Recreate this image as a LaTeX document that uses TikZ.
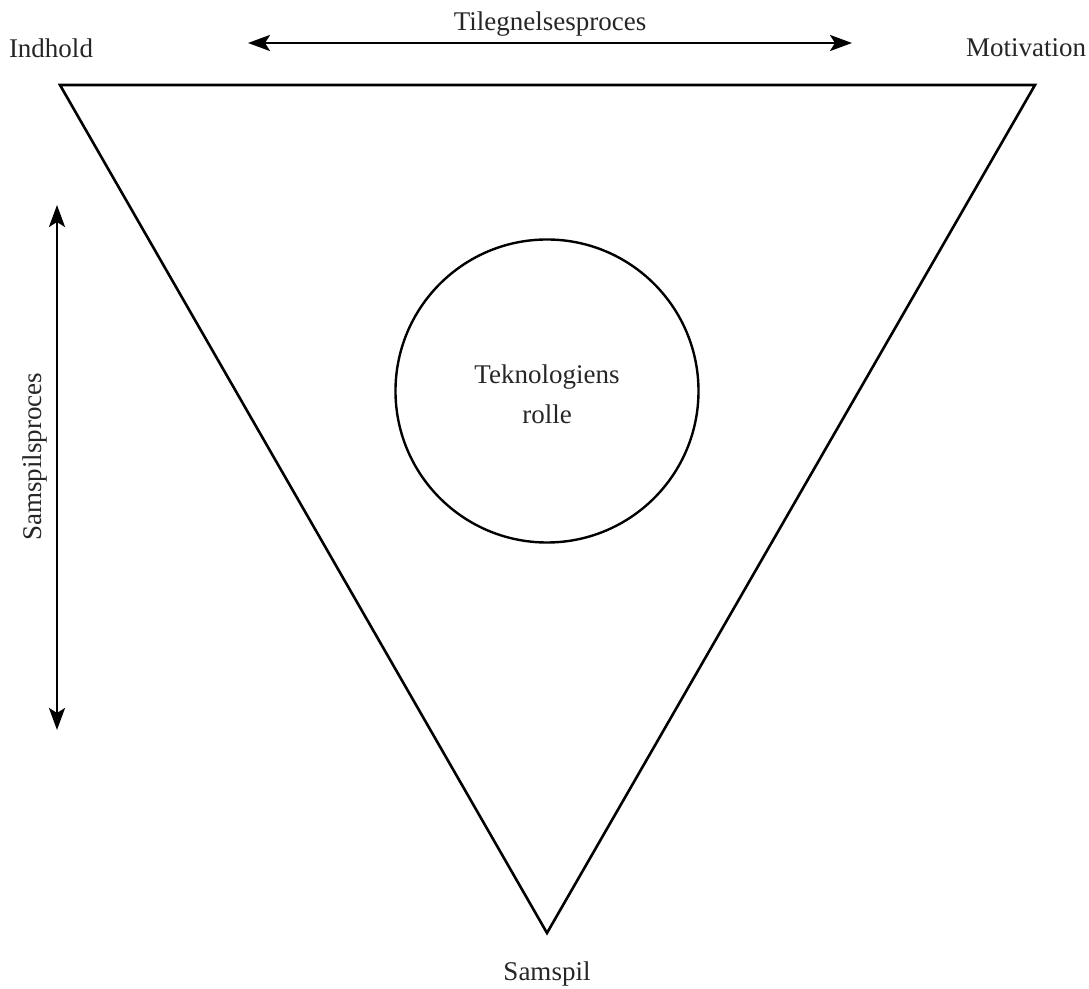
\documentclass[tikz,border=0pt]{standalone}
\usepackage{fontspec}
\setmainfont{Liberation Serif}
\usetikzlibrary{arrows.meta}
\begin{document}
\begin{tikzpicture}[x=0.5pt,y=-0.5pt,
  edge/.style={line width=1.3pt},
  twoway/.style={line width=1.3pt,{Stealth[length=11pt,width=8pt,inset=2.5pt]}-{Stealth[length=11pt,width=8pt,inset=2.5pt]}},
  lbl/.style={font=\fontsize{13.5}{15}\selectfont,inner sep=0pt,text=black!85}]
  \useasboundingbox (0,0) rectangle (1089,989);
  % triangle corners
  \coordinate (tl) at (60,85);
  \coordinate (tr) at (1035,85);
  \coordinate (bt) at (547,933);
  \draw[edge,line join=miter] (tl) -- (tr) -- (bt) -- cycle;
  % central circle
  \node[draw,circle,line width=1.2pt,minimum size=151.5pt,inner sep=0pt] (rolle) at (547,391) {};
  \node[lbl,align=center] (rtxt) at (547,394) {Teknologiens\\[5pt]rolle};
  % corner labels
  \node[lbl] (indhold) at (51,48) {Indhold};
  \node[lbl] (motiv) at (1026,48) {Motivation};
  \node[lbl] (samspil) at (547,974) {Samspil};
  % top arrow
  \coordinate (ta) at (248,43);
  \coordinate (tb) at (852,43);
  \draw[twoway] (ta) -- (tb);
  \node[lbl] (tileg) at (550,24) {Tilegnelsesproces};
  % left arrow
  \coordinate (la) at (57,205);
  \coordinate (lb) at (57,730);
  \draw[twoway] (la) -- (lb);
  \node[lbl,rotate=90] (samsp) at (35,457) {Samspilsproces};
\end{tikzpicture}
\end{document}
